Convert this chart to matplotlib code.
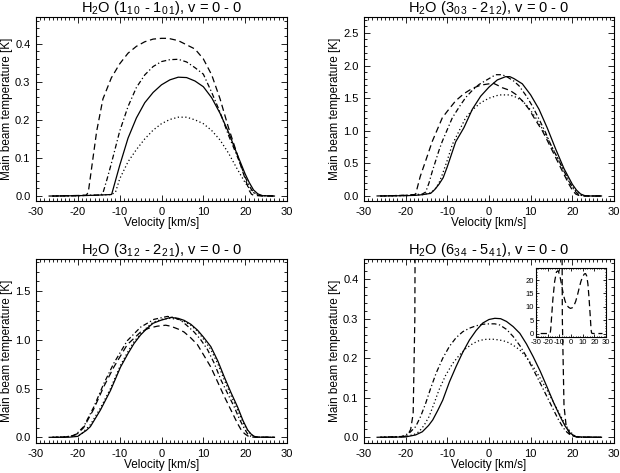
import matplotlib
matplotlib.use("Agg")
import matplotlib.pyplot as plt
from matplotlib.ticker import MultipleLocator

plt.rcParams["font.family"] = ["Liberation Sans", "DejaVu Sans"]
plt.rcParams["mathtext.fontset"] = "custom"
plt.rcParams["mathtext.rm"] = "Liberation Sans"
plt.rcParams["axes.unicode_minus"] = False

# ---- H2O (1_10 - 1_01) ----
v_a_solid = [-26, -20, -16, -12, -11.9, -10, -8, -6, -4, -2, 0, 2, 4, 6, 8, 10, 12, 14, 16, 18, 20, 21, 22, 23, 24, 27]
t_a_solid = [0, 0.001, 0.002, 0.004, 0.005, 0.08, 0.152, 0.205, 0.245, 0.272, 0.292, 0.305, 0.312, 0.311, 0.302, 0.287, 0.258, 0.217, 0.168, 0.112, 0.058, 0.035, 0.016, 0.006, 0.001, 0]
v_a_dash = [-26, -18, -17.5, -16.5, -15.5, -14, -12, -10, -8, -6, -4, -2, 0, 1.2, 2, 4, 6, 8, 10, 12, 14, 16, 18, 19, 20, 21, 21.5, 22, 24, 27]
t_a_dash = [0, 0.002, 0.01, 0.09, 0.17, 0.255, 0.31, 0.347, 0.375, 0.393, 0.405, 0.412, 0.414, 0.414, 0.413, 0.408, 0.397, 0.386, 0.36, 0.318, 0.255, 0.18, 0.113, 0.078, 0.045, 0.014, 0.005, 0.002, 0, 0]
v_a_dashdot = [-27, -20, -14.5, -14, -13, -12, -10, -8, -6, -4, -2, 0, 2, 4, 6, 8, 10, 12, 14, 16, 18, 19, 20, 21, 21.6, 22, 23, 27]
t_a_dashdot = [0, 0.001, 0.003, 0.008, 0.045, 0.085, 0.17, 0.235, 0.285, 0.318, 0.34, 0.353, 0.358, 0.359, 0.352, 0.337, 0.32, 0.272, 0.22, 0.16, 0.107, 0.08, 0.05, 0.026, 0.016, 0.01, 0.002, 0]
v_a_dot = [-26, -16, -12, -11, -10, -8, -6, -4, -2, 0, 2, 4, 6, 8, 10, 12, 14, 16, 18, 20, 21, 22, 23, 24, 27]
t_a_dot = [0, 0.002, 0.004, 0.01, 0.045, 0.09, 0.122, 0.15, 0.173, 0.19, 0.201, 0.207, 0.207, 0.2, 0.19, 0.172, 0.147, 0.113, 0.073, 0.035, 0.02, 0.009, 0.004, 0.001, 0]

# ---- H2O (3_03 - 2_12) ----
v_b_solid = [-26, -20, -17.6, -16, -14, -13, -12, -11, -10, -8, -6, -4, -2, 0, 2, 4, 5, 6, 8, 10, 12, 14, 16, 18, 20, 21, 22, 23, 24, 27]
t_b_solid = [0, 0.005, 0.01, 0.02, 0.04, 0.1, 0.18, 0.28, 0.45, 0.83, 1.05, 1.33, 1.53, 1.67, 1.78, 1.83, 1.83, 1.8, 1.72, 1.55, 1.33, 1.04, 0.72, 0.42, 0.18, 0.09, 0.03, 0.005, 0, 0]
v_b_dash = [-26, -20, -18, -17.6, -16.5, -15.2, -13.6, -12, -11.2, -10, -8, -6, -4, -2, 0, 1, 2, 3.2, 5, 6.4, 8, 9.6, 11, 12.8, 14, 16, 18, 19.2, 20, 20.8, 21.5, 23, 27]
t_b_dash = [0, 0.01, 0.02, 0.03, 0.3, 0.54, 0.84, 1.08, 1.2, 1.3, 1.46, 1.57, 1.65, 1.7, 1.72, 1.73, 1.7, 1.66, 1.62, 1.56, 1.46, 1.33, 1.18, 1.0, 0.85, 0.59, 0.33, 0.18, 0.09, 0.03, 0.01, 0, 0]
v_b_dashdot = [-27, -20, -16, -15.2, -14.4, -13.6, -12, -11.2, -10, -8.8, -7, -5.6, -4, -2.4, 0, 1.6, 3, 4, 6, 7.2, 9, 10.4, 12, 13.6, 15, 16.8, 18, 20, 21, 21.6, 23, 27]
t_b_dashdot = [0, 0.01, 0.03, 0.06, 0.2, 0.38, 0.7, 0.84, 1.02, 1.2, 1.38, 1.51, 1.62, 1.71, 1.8, 1.86, 1.86, 1.84, 1.76, 1.69, 1.53, 1.38, 1.18, 0.97, 0.76, 0.54, 0.38, 0.13, 0.05, 0.015, 0, 0]
v_b_dot = [-26, -20, -16, -14, -13, -12, -11.2, -10, -8.8, -7, -5.6, -4, -2, 0, 2.4, 4.8, 6, 8, 9.6, 11.2, 12.8, 14.4, 16, 17.6, 19, 20.8, 22, 23, 27]
t_b_dot = [0, 0.005, 0.02, 0.05, 0.1, 0.2, 0.33, 0.55, 0.79, 1.02, 1.2, 1.32, 1.43, 1.5, 1.55, 1.55, 1.53, 1.46, 1.35, 1.2, 1.03, 0.84, 0.64, 0.43, 0.24, 0.08, 0.015, 0, 0]

# ---- H2O (3_12 - 2_21) ----
v_c_solid = [-26, -22, -20, -19.4, -18, -17, -14.6, -12.2, -9.8, -8, -6.6, -5, -3.4, -2, -0.2, 2.2, 4, 5.4, 7, 8.6, 10, 11.8, 13.5, 15, 16.6, 18.2, 19.5, 20.6, 21.5, 22.2, 23, 27]
t_c_solid = [0, 0.002, 0.01, 0.03, 0.07, 0.11, 0.28, 0.48, 0.72, 0.86, 0.96, 1.05, 1.12, 1.17, 1.2, 1.23, 1.22, 1.2, 1.16, 1.1, 1.03, 0.93, 0.78, 0.62, 0.46, 0.31, 0.17, 0.075, 0.03, 0.01, 0.002, 0]
v_c_dash = [-26, -23, -21, -20, -18.6, -16.2, -13.8, -11.4, -8.2, -5, -3, -1, 1, 2.2, 4, 5.4, 7, 8.6, 10, 11.8, 13.4, 15, 16.6, 18.2, 19, 19.8, 20.6, 21.5, 27]
t_c_dash = [0, 0.003, 0.02, 0.04, 0.1, 0.29, 0.52, 0.72, 0.95, 1.08, 1.12, 1.14, 1.15, 1.14, 1.11, 1.08, 1.02, 0.95, 0.85, 0.72, 0.57, 0.42, 0.28, 0.14, 0.08, 0.04, 0.015, 0.003, 0]
v_c_dashdot = [-27, -23, -21, -20.2, -18.6, -16.2, -13.8, -11.4, -8.2, -5, -1.8, 1.4, 3, 4.6, 6, 7.8, 9.4, 11, 12.6, 14.2, 15.8, 17.4, 18.6, 19.8, 20.6, 21.4, 22.5, 27]
t_c_dashdot = [0, 0.003, 0.02, 0.04, 0.11, 0.31, 0.55, 0.76, 0.99, 1.13, 1.21, 1.24, 1.23, 1.2, 1.15, 1.08, 1.0, 0.9, 0.76, 0.59, 0.45, 0.31, 0.19, 0.09, 0.035, 0.01, 0.002, 0]
v_c_dot = [-26, -20, -19, -17, -14.6, -12.2, -9.8, -8, -6.6, -5, -3.4, -2, 0, 2, 4, 5.4, 7, 8.6, 10, 11.8, 13.5, 15, 16.6, 18.2, 19.5, 20.6, 21.5, 22.2, 23, 27]
t_c_dot = [0, 0.012, 0.04, 0.13, 0.3, 0.5, 0.74, 0.88, 0.98, 1.06, 1.13, 1.18, 1.21, 1.22, 1.21, 1.19, 1.15, 1.09, 1.01, 0.9, 0.75, 0.59, 0.43, 0.28, 0.15, 0.065, 0.025, 0.008, 0.002, 0]

# ---- H2O (6_34 - 5_41) ----
v_d_solid = [-26, -20, -17.6, -16, -14.5, -13.5, -12.3, -11.1, -9.5, -7.9, -6.3, -4.7, -3.1, -1.5, 0, 1.4, 2.8, 4.2, 5.8, 7.4, 9, 10.6, 12.3, 13.9, 15.5, 17.1, 18.3, 19.5, 21, 27]
t_d_solid = [0, 0.001, 0.006, 0.014, 0.03, 0.044, 0.068, 0.094, 0.14, 0.179, 0.215, 0.246, 0.27, 0.289, 0.298, 0.301, 0.3, 0.293, 0.28, 0.263, 0.236, 0.204, 0.167, 0.128, 0.088, 0.052, 0.028, 0.01, 0.001, 0]
v_d_dash = [-26, -21, -20, -19.5, -18.8, -18.2, -17.8, -17.4, -16.5, -15.5, -14, -12.5, -11, -9.5, -8, -6.5, -5, -3.5, -2, -0.5, 1, 2.5, 4, 5.5, 7, 8.5, 10, 11.5, 12.5, 13.5, 14.5, 15.5, 16.5, 17.2, 17.6, 18.0, 18.5, 19.3, 20, 22, 27]
t_d_dash = [0, 0.001, 0.003, 0.006, 0.02, 0.06, 0.3, 1.5, 7, 13, 19.5, 23, 23.5, 21.5, 18, 14.5, 12, 10.5, 9.8, 9.4, 9.6, 10.4, 12, 14.3, 17, 19.5, 21.3, 22.3, 22.4, 21.5, 18.5, 13, 6.5, 1.5, 0.3, 0.08, 0.03, 0.01, 0.003, 0, 0]
v_d_dashdot = [-27, -21, -19.2, -17.6, -16.4, -15.2, -14, -12.7, -11.1, -9.5, -7.9, -6.3, -4.7, -3.1, -1.5, 0.2, 1.4, 2.6, 4.2, 5.8, 7.4, 9, 10.6, 12.3, 13.9, 15.5, 16.7, 17.9, 18.7, 19.5, 21, 27]
t_d_dashdot = [0, 0.002, 0.01, 0.027, 0.053, 0.086, 0.124, 0.162, 0.2, 0.23, 0.252, 0.267, 0.276, 0.282, 0.286, 0.287, 0.287, 0.284, 0.273, 0.255, 0.232, 0.204, 0.172, 0.137, 0.103, 0.069, 0.044, 0.023, 0.013, 0.006, 0.001, 0]
v_d_dot = [-26, -20, -18, -16.8, -15.6, -14.4, -13.2, -12, -10.4, -8.7, -7.1, -5.5, -3.9, -2.3, -0.6, 1, 2.6, 4.2, 5.8, 7.4, 9, 10.6, 12.2, 13.9, 15.5, 17.1, 18.3, 19.5, 20.5, 22, 27]
t_d_dot = [0, 0.002, 0.007, 0.014, 0.03, 0.052, 0.085, 0.12, 0.157, 0.187, 0.208, 0.225, 0.237, 0.245, 0.248, 0.248, 0.246, 0.242, 0.233, 0.221, 0.202, 0.179, 0.151, 0.12, 0.088, 0.056, 0.032, 0.014, 0.004, 0, 0]

titles = [
    r"H$_\mathrm{2}$O (1$_\mathrm{1\,0}$ - 1$_\mathrm{0\,1}$), v = 0 - 0",
    r"H$_\mathrm{2}$O (3$_\mathrm{0\,3}$ - 2$_\mathrm{1\,2}$), v = 0 - 0",
    r"H$_\mathrm{2}$O (3$_\mathrm{1\,2}$ - 2$_\mathrm{2\,1}$), v = 0 - 0",
    r"H$_\mathrm{2}$O (6$_\mathrm{3\,4}$ - 5$_\mathrm{4\,1}$), v = 0 - 0",
]

W, H = 620, 473
STYLES = {
    "solid": dict(linestyle="-"),
    "dash": dict(linestyle=(0, (5, 3))),
    "dashdot": dict(linestyle=(0, (4, 2, 1, 2))),
    "dot": dict(linestyle=(0, (1, 2))),
}


def style_axis(ax, ymajor, yminor, size=8, major_len=4, minor_len=2):
    ax.set_xlim(-30, 30)
    ax.xaxis.set_major_locator(MultipleLocator(10))
    ax.xaxis.set_minor_locator(MultipleLocator(1))
    ax.yaxis.set_major_locator(MultipleLocator(ymajor))
    ax.yaxis.set_minor_locator(MultipleLocator(yminor))
    ax.tick_params(which="both", direction="in", top=True, right=True, width=0.6,
                   labelsize=size, pad=4)
    ax.tick_params(which="major", length=major_len)
    ax.tick_params(which="minor", length=minor_len)
    for s in ax.spines.values():
        s.set_linewidth(0.8)


def panel(rect, title, series, ylim, ymajor, yminor, yfmt):
    l, t, r, b = rect
    ax = fig.add_axes([l / W, 1 - b / H, (r - l) / W, (b - t) / H])
    for key, v, temp in series:
        ax.plot(v, temp, color="black", linewidth=0.9, **STYLES[key])
    style_axis(ax, ymajor, yminor)
    ax.set_ylim(*ylim)
    ax.yaxis.set_major_formatter(plt.FormatStrFormatter(yfmt))
    ax.set_title(title, fontsize=10.5, pad=3)
    ax.set_xlabel("Velocity [km/s]", fontsize=8.5, labelpad=0.5)
    ax.set_ylabel("Main beam temperature [K]", fontsize=8.5)
    ax.yaxis.set_label_coords(-23 / (r - l), 0.5)
    return ax


fig = plt.figure(figsize=(6.2, 4.73), dpi=100)

panel((36, 17, 287, 201), titles[0],
      [("dash", v_a_dash, t_a_dash), ("dashdot", v_a_dashdot, t_a_dashdot),
       ("solid", v_a_solid, t_a_solid), ("dot", v_a_dot, t_a_dot)],
      (-0.013, 0.470), 0.1, 0.02, "%.1f")
panel((364, 17, 614, 201), titles[1],
      [("dash", v_b_dash, t_b_dash), ("dashdot", v_b_dashdot, t_b_dashdot),
       ("solid", v_b_solid, t_b_solid), ("dot", v_b_dot, t_b_dot)],
      (-0.077, 2.745), 0.5, 0.1, "%.1f")
panel((36, 259, 287, 443), titles[2],
      [("dash", v_c_dash, t_c_dash), ("dashdot", v_c_dashdot, t_c_dashdot),
       ("solid", v_c_solid, t_c_solid), ("dot", v_c_dot, t_c_dot)],
      (-0.058, 1.829), 0.5, 0.1, "%.1f")
panel((364, 259, 614, 443), titles[3],
      [("dash", v_d_dash, t_d_dash), ("dashdot", v_d_dashdot, t_d_dashdot),
       ("solid", v_d_solid, t_d_solid), ("dot", v_d_dot, t_d_dot)],
      (-0.0144, 0.451), 0.1, 0.02, "%.1f")

# inset with the full dashed profile
ax_in = fig.add_axes([536 / W, 1 - 337 / H, 70 / W, 69 / H])
ax_in.patch.set_visible(False)
ax_in.plot(v_d_dash, t_d_dash, color="black", linewidth=0.9, **STYLES["dash"])
style_axis(ax_in, 5, 1, size=5.5, major_len=2, minor_len=1)
ax_in.xaxis.set_minor_locator(MultipleLocator(2))
ax_in.tick_params(pad=1.5)
ax_in.set_ylim(-1.3, 24.5)

fig.savefig("out.png", dpi=100)
